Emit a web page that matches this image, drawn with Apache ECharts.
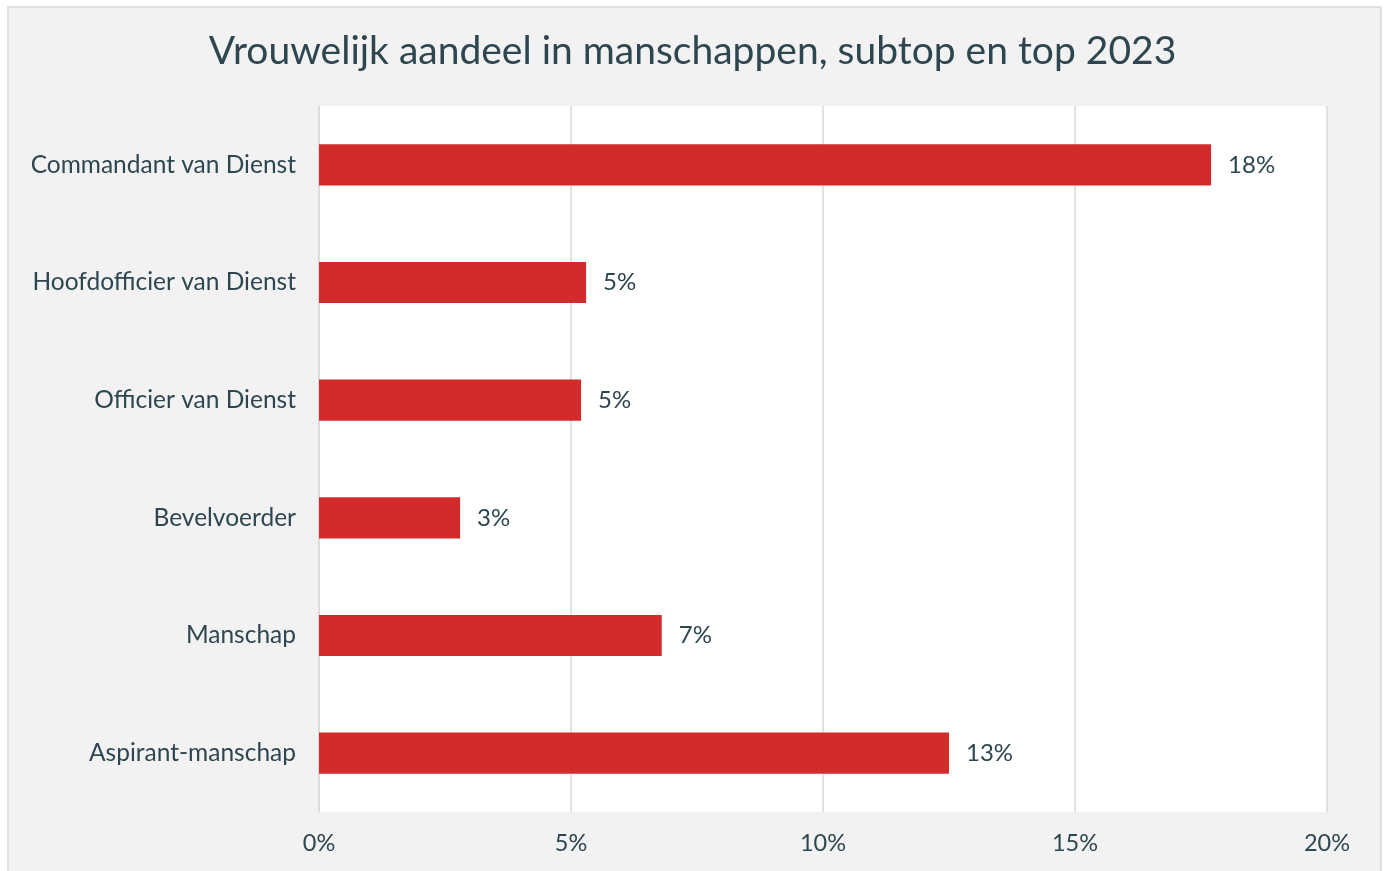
<!DOCTYPE html>
<html>
<head>
<meta charset="utf-8">
<script src="https://cdn.jsdelivr.net/npm/echarts@6/dist/echarts.min.js"></script>
<style>
  html, body { margin: 0; padding: 0; background: #fff; }
  #chart { width: 1385px; height: 871px; }
</style>
</head>
<body>
<div id="chart"></div>
<script>
  var categories = ['Commandant van Dienst', 'Hoofdofficier van Dienst', 'Officier van Dienst', 'Bevelvoerder', 'Manschap', 'Aspirant-manschap'];
  var shares = [17.7, 5.3, 5.2, 2.8, 6.8, 12.5];
  var xTicks = [0, 5, 10, 15, 20];

  var textColor = '#2d4650';
  var chart = echarts.init(document.getElementById('chart'));

  var option = {
    backgroundColor: '#fff',
    textStyle: { fontFamily: 'Lato, sans-serif' },
    graphic: [{
      type: 'rect',
      z: -10,
      shape: { x: 8, y: 7, width: 1373, height: 870 },
      style: { fill: '#f2f2f2', stroke: '#d9d9d9', lineWidth: 1.5 }
    }],
    title: {
      text: 'Vrouwelijk aandeel in manschappen, subtop en top 2023',
      left: 'center',
      top: 27,
      textStyle: { color: textColor, fontSize: 39, fontWeight: 'normal', fontFamily: 'Lato, sans-serif' }
    },
    grid: {
      left: 319, right: 58, top: 106, bottom: 59,
      show: true, backgroundColor: '#fff', borderWidth: 0
    },
    xAxis: {
      type: 'value',
      min: xTicks[0],
      max: xTicks[xTicks.length - 1],
      interval: 5,
      axisLine: { show: false },
      axisTick: { show: false },
      splitLine: { lineStyle: { color: '#d9d9d9', width: 1.5 } },
      axisLabel: { color: textColor, fontSize: 23.5, margin: 19, formatter: '{value}%' }
    },
    yAxis: {
      type: 'category',
      inverse: true,
      data: categories,
      axisLine: { show: true, lineStyle: { color: '#d9d9d9', width: 1.5 } },
      axisTick: { show: false },
      axisLabel: { color: textColor, fontSize: 24.5, margin: 23 }
    },
    series: [{
      type: 'bar',
      data: shares,
      barCategoryGap: '65%',
      itemStyle: { color: '#d22b2b' },
      label: {
        show: true,
        position: 'right',
        distance: 17,
        color: textColor,
        fontSize: 24,
        formatter: function (p) { return Math.round(p.value) + '%'; }
      }
    }]
  };

  chart.setOption(option);
</script>
</body>
</html>
